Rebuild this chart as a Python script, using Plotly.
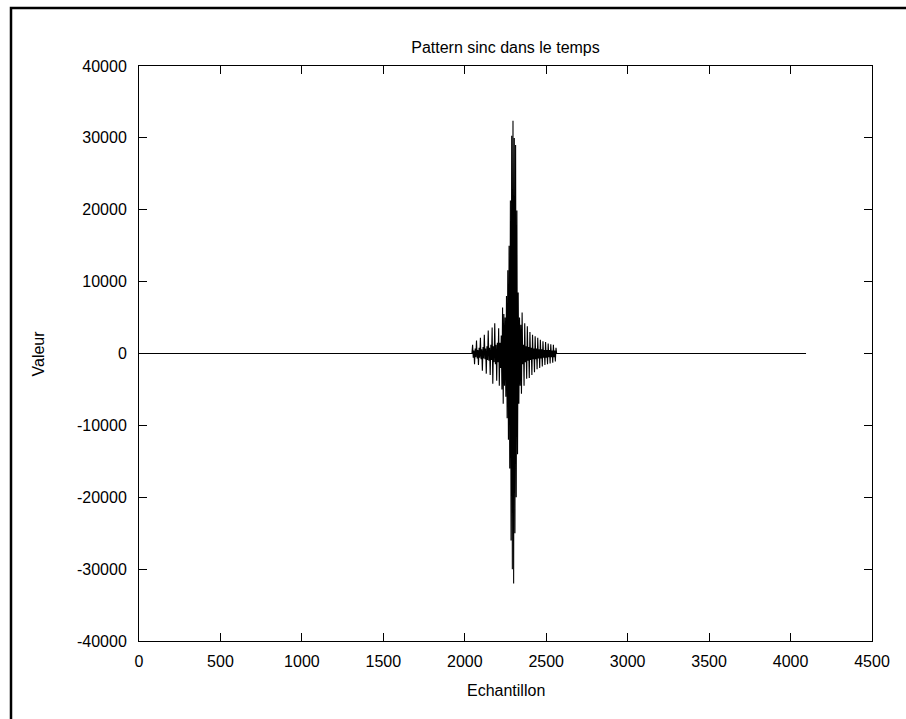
import plotly.graph_objects as go

# --- data ---
quiet_before_x = [0, 2044]
quiet_before_y = [0, 0]

burst_start = 2048
burst_step = 4
burst_left = [
    1200, -600, 400, -1500, 700, -500, 1800, -700, 500, -1600,
    800, -600, 2200, -800, 600, -2400, 900, -700, 2600, -800,
    700, -2800, 1000, -900, 3200, -1000, 800, -3000, 1200, -900,
    3600, -4200, 1000, -1200, 4200, -1500, 1200, -3800, 1500, -1200,
    3500, -4500, 1500, -2000, 2500, -5000,
]
burst_center = [
    6400, -7000, 5500, -4500, 5000, -6000, 8000, -9000, 11600, -12000,
    15000, -16000, 21300, -26000, 30300, -30000, 32400, -32000, 30000, -25000,
    29000, -20000, 19900, -14000, 8500, -7000, 5000, -4500, 4000, -5600,
]
burst_right = [
    5700, -1500, 1200, -4500, 4200, -1200, 1000, -3500, 3800, -1000,
    900, -3400, 3000, -900, 800, -3000, 2600, -800, 700, -2600,
    2400, -800, 700, -2200, 2200, -700, 600, -2000, 1900, -700,
    600, -1800, 1700, -600, 500, -1600, 1600, -600, 500, -1500,
    1400, -500, 500, -1400, 1300, -500, 400, -1300, 1200, -500,
    400, -1100, 800,
]
burst_values = burst_left + burst_center + burst_right
burst_x = [burst_start + burst_step * i for i in range(len(burst_values))]

quiet_after_x = [burst_x[-1] + 4, 4095]
quiet_after_y = [0, 0]

sample_idx = quiet_before_x + burst_x + quiet_after_x
valeur = quiet_before_y + burst_values + quiet_after_y

x_ticks = [0, 500, 1000, 1500, 2000, 2500, 3000, 3500, 4000, 4500]
y_ticks = [-40000, -30000, -20000, -10000, 0, 10000, 20000, 30000, 40000]

title_text = "Pattern sinc dans le temps"
x_label = "Echantillon"
y_label = "Valeur"

# --- figure ---
W, H = 906, 719
ML, MR, MT, MB = 139, 34, 66, 78
PW, PH = W - ML - MR, H - MT - MB

font_family = "Liberation Sans, Arial, sans-serif"

fig = go.Figure()
fig.add_trace(go.Scatter(
    x=sample_idx, y=valeur, mode="lines",
    line=dict(color="black", width=1.1),
    showlegend=False, hoverinfo="skip",
))

axis_common = dict(
    showgrid=False, zeroline=False, showline=True, linecolor="black",
    linewidth=1, mirror="ticks", ticks="inside", ticklen=8,
    tickcolor="black", tickwidth=1,
    tickfont=dict(family=font_family, size=16, color="black"),
)

fig.update_layout(
    width=W, height=H,
    margin=dict(l=ML, r=MR, t=MT, b=MB),
    paper_bgcolor="white", plot_bgcolor="white",
    font=dict(family=font_family, size=16, color="black"),
    xaxis=dict(range=[0, 4500], tickmode="array", tickvals=x_ticks,
               ticktext=[str(v) for v in x_ticks], ticklabelstandoff=6,
               **axis_common),
    yaxis=dict(range=[-40000, 40000], tickmode="array", tickvals=y_ticks,
               ticktext=[str(v) for v in y_ticks], ticklabelstandoff=8,
               **axis_common),
    title=dict(text=title_text, x=0.5, xref="paper", xanchor="center",
               y=(H - 47) / H, yanchor="middle", yref="container",
               font=dict(family=font_family, size=16, color="black")),
    annotations=[
        dict(text=x_label, xref="paper", yref="paper", x=0.5,
             y=-49 / PH, xanchor="center", yanchor="middle",
             showarrow=False, font=dict(family=font_family, size=16)),
        dict(text=y_label, xref="paper", yref="paper", x=(38 - ML) / PW,
             y=0.5, xanchor="center", yanchor="middle", textangle=-90,
             showarrow=False, font=dict(family=font_family, size=16)),
    ],
    shapes=[
        dict(type="rect", xref="paper", yref="paper",
             x0=(11 - ML) / PW, x1=(W + 20 - ML) / PW,
             y0=-(MB + 20) / PH, y1=(H - MB - 8) / PH,
             line=dict(color="black", width=2.5), fillcolor="rgba(0,0,0,0)",
             layer="above"),
    ],
)

fig.write_html("out.html")
